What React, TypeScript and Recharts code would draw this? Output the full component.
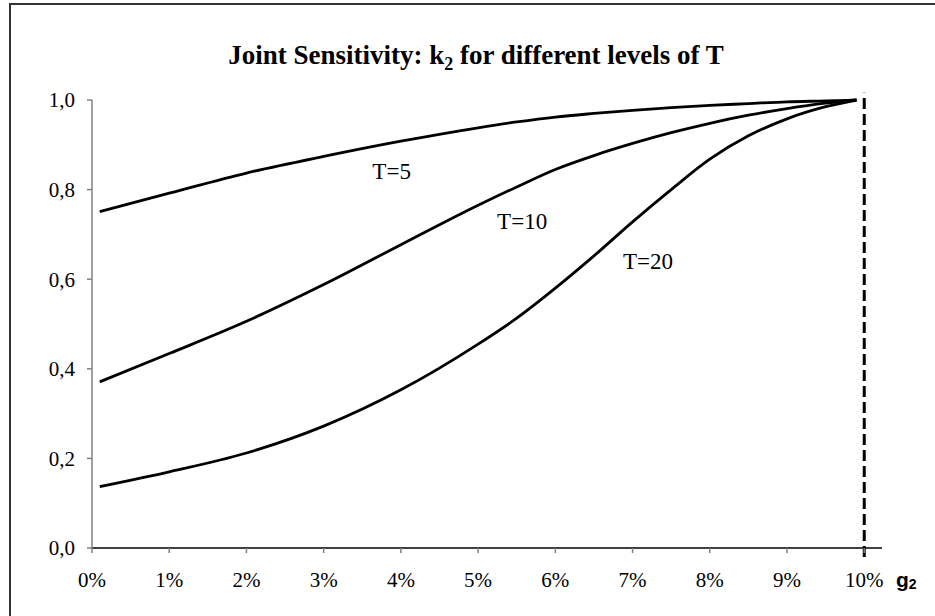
import React from 'react';
import { LineChart, Line, XAxis, YAxis, ReferenceLine, ReferenceDot } from 'recharts';

// growth rate g2 (fraction) and k2 readings for each horizon T
const growthRates = [0.001, 0.01, 0.02, 0.03, 0.04, 0.05, 0.055, 0.06, 0.065, 0.07, 0.075, 0.08, 0.085, 0.09, 0.095, 0.099];
const k2T5 = [0.751, 0.792, 0.837, 0.874, 0.908, 0.938, 0.951, 0.962, 0.97, 0.977, 0.983, 0.988, 0.992, 0.996, 0.998, 1.0];
const k2T10 = [0.371, 0.434, 0.506, 0.588, 0.677, 0.765, 0.806, 0.845, 0.876, 0.903, 0.927, 0.948, 0.966, 0.981, 0.993, 1.0];
const k2T20 = [0.137, 0.17, 0.212, 0.272, 0.353, 0.455, 0.513, 0.58, 0.652, 0.728, 0.8, 0.868, 0.92, 0.958, 0.985, 1.0];

const xTicks = [0, 0.01, 0.02, 0.03, 0.04, 0.05, 0.06, 0.07, 0.08, 0.09, 0.1];
const yTicks = [0, 0.2, 0.4, 0.6, 0.8, 1.0];

const curveLabels = [
  { text: 'T=5', g: 0.0388, k: 0.842 },
  { text: 'T=10', g: 0.0557, k: 0.73 },
  { text: 'T=20', g: 0.072, k: 0.641 },
];

// dashed cut-off at g2 = 10%
const cutoffG = 0.1;
const cutoffRange = [-0.02, 1.016];

const data = growthRates.map((g, i) => ({
  g,
  t5: k2T5[i],
  t10: k2T10[i],
  t20: k2T20[i],
}));

const serif = '"Liberation Serif", "Times New Roman", serif';
const sans = '"Liberation Sans", Arial, sans-serif';

const fmtPct = (v: number) => `${Math.round(v * 100)}%`;
const fmtDec = (v: number) => v.toFixed(1).replace('.', ',');

export default function App() {
  return (
    <div style={{ position: 'absolute', left: 0, top: 0, width: 935, height: 616, background: '#fff', overflow: 'hidden' }}>
      <div
        style={{
          position: 'absolute',
          left: 9,
          top: 3,
          width: 1000,
          height: 700,
          borderLeft: '2px solid #333',
          borderTop: '2px solid #333',
        }}
      />
      <LineChart
        width={935}
        height={616}
        data={data}
        margin={{ top: 100, right: 53, bottom: 28, left: 0 }}
        style={{ position: 'absolute', left: 0, top: 0 }}
      >
        <XAxis
          dataKey="g"
          type="number"
          domain={[0, 0.1023]}
          ticks={xTicks}
          interval={0}
          tickFormatter={fmtPct}
          height={40}
          axisLine={{ stroke: '#000', strokeWidth: 1.5 }}
          tickLine={{ stroke: '#808080', strokeWidth: 1.5 }}
          tickSize={5}
          tickMargin={19}
          tick={{ fill: '#000', fontSize: 21, fontFamily: serif }}
        />
        <YAxis
          type="number"
          domain={[0, 1]}
          ticks={yTicks}
          interval={0}
          tickFormatter={fmtDec}
          width={92}
          axisLine={{ stroke: '#808080', strokeWidth: 1.5 }}
          tickLine={{ stroke: '#808080', strokeWidth: 1.5 }}
          tickSize={5}
          tickMargin={12}
          tick={{ fill: '#000', fontSize: 21, fontFamily: serif }}
        />
        <ReferenceLine
          segment={[
            { x: cutoffG, y: cutoffRange[0] },
            { x: cutoffG, y: cutoffRange[1] },
          ]}
          ifOverflow="visible"
          stroke="#000"
          strokeWidth={3}
          strokeDasharray="11 5"
        />
        <Line type="monotone" dataKey="t5" stroke="#000" strokeWidth={2.8} dot={false} isAnimationActive={false} />
        <Line type="monotone" dataKey="t10" stroke="#000" strokeWidth={2.8} dot={false} isAnimationActive={false} />
        <Line type="monotone" dataKey="t20" stroke="#000" strokeWidth={2.8} dot={false} isAnimationActive={false} />
        {curveLabels.map((l) => (
          <ReferenceDot
            key={l.text}
            x={l.g}
            y={l.k}
            r={0}
            stroke="none"
            fill="none"
            label={{ value: l.text, position: 'center', fill: '#000', fontSize: 23, fontFamily: serif }}
          />
        ))}
      </LineChart>
      <svg width={935} height={616} style={{ position: 'absolute', left: 0, top: 0, pointerEvents: 'none' }}>
        <text x={476} y={64} textAnchor="middle" fontFamily={serif} fontWeight="bold" fontSize={27} fill="#000">
          Joint Sensitivity: k
          <tspan fontSize={18} dy={6}>2</tspan>
          <tspan dy={-6}> for different levels of T</tspan>
        </text>
        <text x={896} y={587} fontFamily={sans} fontWeight="bold" fontSize={21} fill="#000">
          g<tspan fontSize={14} dy={2}>2</tspan>
        </text>
      </svg>
    </div>
  );
}
